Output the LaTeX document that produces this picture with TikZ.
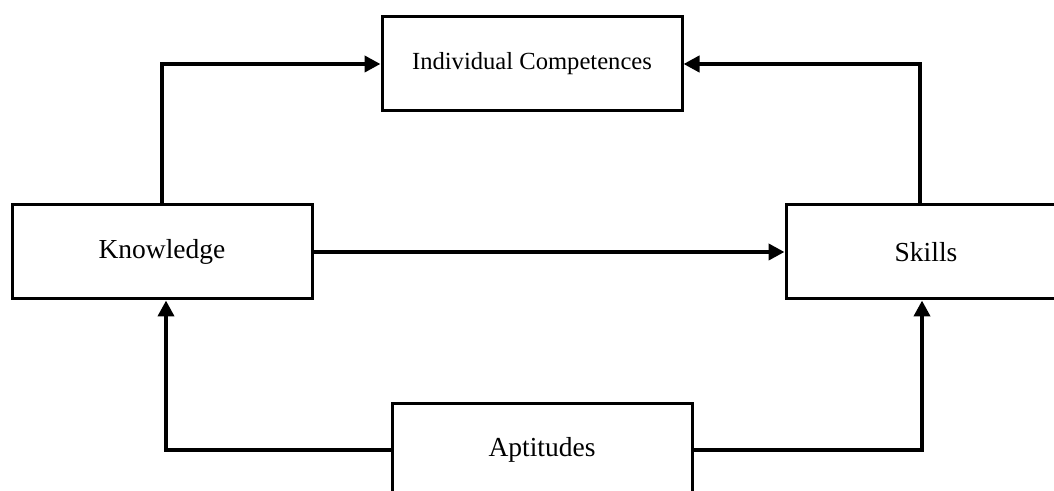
\documentclass[tikz,border=0pt]{standalone}
\usepackage{fontspec}
\setmainfont{Liberation Serif}
\usetikzlibrary{arrows.meta}

\tikzset{
  box/.style={draw, line width=1.5pt, minimum width=150pt, minimum height=47pt,
    inner sep=0pt, font=\fontsize{13.75}{16}\selectfont},
  link/.style={line width=2pt, -{Triangle[length=8pt,width=8pt]}}
}

\begin{document}
\begin{tikzpicture}[x=0.5pt,y=-0.5pt]
\useasboundingbox (0,0) rectangle (1054,491);

\node[box, font=\fontsize{12.3}{15}\selectfont] (comp) at (532,64) {Individual Competences};
\node[box] (know) at (162,252) {Knowledge};
\node[box, minimum width=140pt] (skill) at (926,252) {Skills};
\node[box] (apt) at (542,450) {Aptitudes};

\draw[link] (know.north) |- (comp.west);
\draw[link] ([xshift=-3pt]skill.north) |- (comp.east);
\draw[link] (know.east) -- (skill.west);

\draw[link] (apt.west) -| ([xshift=2pt]know.south);
\draw[link] (apt.east) -| ([xshift=-2pt]skill.south);
\end{tikzpicture}
\end{document}
